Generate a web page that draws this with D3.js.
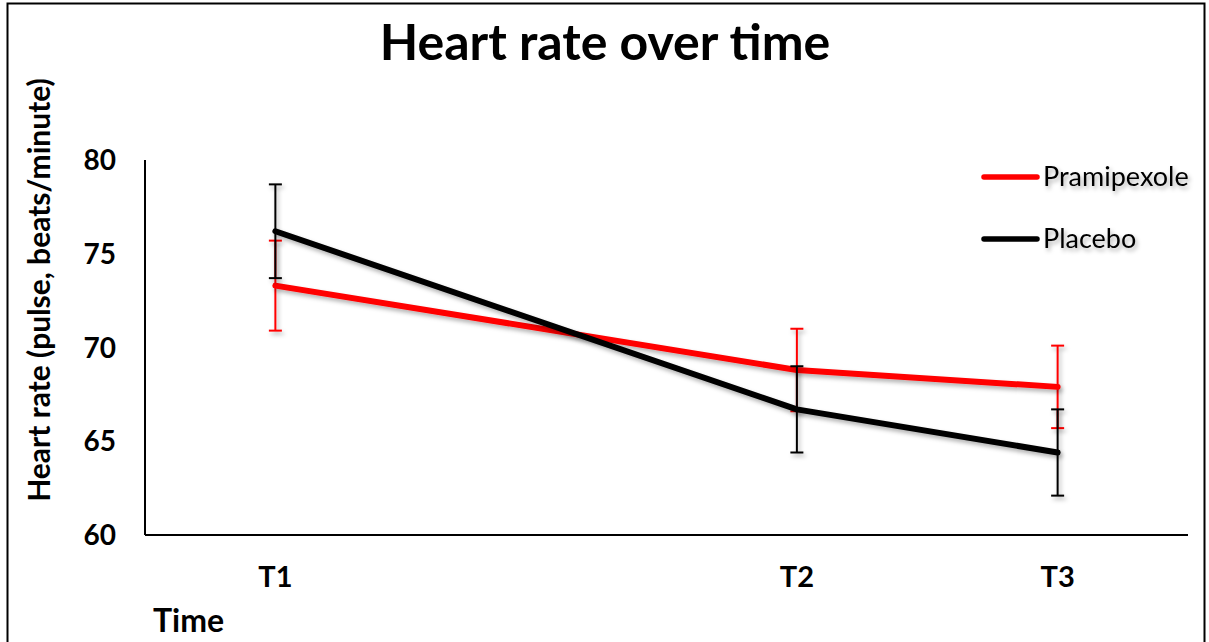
<!DOCTYPE html>
<html>
<head>
<meta charset="utf-8">
<script src="https://cdn.jsdelivr.net/npm/d3@7"></script>
<style>
  body { margin: 0; background: #fff; }
  text { font-family: Lato, "Open Sans", sans-serif; }
</style>
</head>
<body>
<div id="chart"></div>
<script>
// time points (x position) and labels
const timeLabels = ["T1", "T2", "T3"];
const timePos = [0.5, 2.5, 3.5];
const yTicks = [60, 65, 70, 75, 80];

const pramipexoleMean = [73.3, 68.8, 67.9];
const pramipexoleErr = [2.4, 2.2, 2.2];
const placeboMean = [76.2, 66.7, 64.4];
const placeboErr = [2.5, 2.3, 2.3];

const width = 1209, height = 642;
const svg = d3.select("#chart").append("svg")
    .attr("width", width)
    .attr("height", height);

// drop shadow like the excel effect (user space so thin vertical lines keep it)
const defs = svg.append("defs");
const f = defs.append("filter").attr("id", "shadow")
    .attr("filterUnits", "userSpaceOnUse")
    .attr("x", 0).attr("y", 0).attr("width", width).attr("height", height);
f.append("feDropShadow").attr("dx", 2).attr("dy", 3).attr("stdDeviation", 2)
    .attr("flood-color", "#000").attr("flood-opacity", 0.3);

// outer border
svg.append("rect")
    .attr("x", 7.5).attr("y", 3.5).attr("width", 1197).attr("height", 700)
    .attr("fill", "none").attr("stroke", "#000").attr("stroke-width", 2);

const x = d3.scaleLinear().domain([0, 4]).range([145, 1188]);
const y = d3.scaleLinear().domain([60, 80]).range([535, 160]);

// axes lines
svg.append("line").attr("x1", x(0)).attr("x2", x(0)).attr("y1", y(80)).attr("y2", y(60))
    .attr("stroke", "#000").attr("stroke-width", 2);
svg.append("line").attr("x1", x(0)).attr("x2", x(4)).attr("y1", y(60)).attr("y2", y(60))
    .attr("stroke", "#000").attr("stroke-width", 2);

// y tick labels
svg.selectAll(".ytick").data(yTicks).enter().append("text")
    .attr("x", 116).attr("y", d => y(d))
    .attr("dy", "0.36em")
    .attr("text-anchor", "end")
    .attr("font-size", 28).attr("font-weight", "bold")
    .text(d => d);

// x tick labels
svg.selectAll(".xtick").data(timeLabels).enter().append("text")
    .attr("x", (d, i) => x(timePos[i]))
    .attr("y", 587)
    .attr("text-anchor", "middle")
    .attr("font-size", 29).attr("font-weight", "bold")
    .text(d => d);

// titles
svg.append("text").attr("x", 605).attr("y", 60)
    .attr("text-anchor", "middle")
    .attr("font-size", 50).attr("font-weight", "bold")
    .text("Heart rate over time");

svg.append("text").attr("x", 153).attr("y", 632)
    .attr("font-size", 32).attr("font-weight", "bold")
    .text("Time");

svg.append("text")
    .attr("transform", "translate(50,290) rotate(-90)")
    .attr("text-anchor", "middle")
    .attr("font-size", 30).attr("font-weight", "bold")
    .text("Heart rate (pulse, beats/minute)");

const series = [
    { name: "Pramipexole", color: "#ff0000", mean: pramipexoleMean, err: pramipexoleErr },
    { name: "Placebo", color: "#000000", mean: placeboMean, err: placeboErr }
];

const line = d3.line()
    .x(d => x(d[0]))
    .y(d => y(d[1]));

series.forEach(s => {
    const g = svg.append("g");
    const pts = timePos.map((t, i) => [t, s.mean[i]]);
    // error bars
    const eb = g.append("g").attr("filter", "url(#shadow)");
    pts.forEach((p, i) => {
        const cx = x(p[0]);
        eb.append("line").attr("x1", cx).attr("x2", cx)
            .attr("y1", y(s.mean[i] + s.err[i])).attr("y2", y(s.mean[i] - s.err[i]))
            .attr("stroke", s.color).attr("stroke-width", 2);
        [s.mean[i] + s.err[i], s.mean[i] - s.err[i]].forEach(v => {
            eb.append("line").attr("x1", cx - 6.5).attr("x2", cx + 6.5)
                .attr("y1", y(v)).attr("y2", y(v))
                .attr("stroke", s.color).attr("stroke-width", 2);
        });
    });
    g.append("path").datum(pts)
        .attr("d", line)
        .attr("fill", "none")
        .attr("stroke", s.color)
        .attr("stroke-width", 6)
        .attr("stroke-linecap", "round")
        .attr("stroke-linejoin", "round")
        .attr("filter", "url(#shadow)");
});

// legend
const legend = svg.append("g");
series.forEach((s, i) => {
    const ly = 177 + i * 62;
    legend.append("line").attr("x1", 984).attr("x2", 1037).attr("y1", ly).attr("y2", ly)
        .attr("stroke", s.color).attr("stroke-width", 5.5)
        .attr("stroke-linecap", "round");
    legend.append("text").attr("x", 1043).attr("y", ly).attr("dy", "0.35em")
        .attr("font-size", 27)
        .attr("filter", "url(#shadow)")
        .text(s.name);
});
</script>
</body>
</html>
